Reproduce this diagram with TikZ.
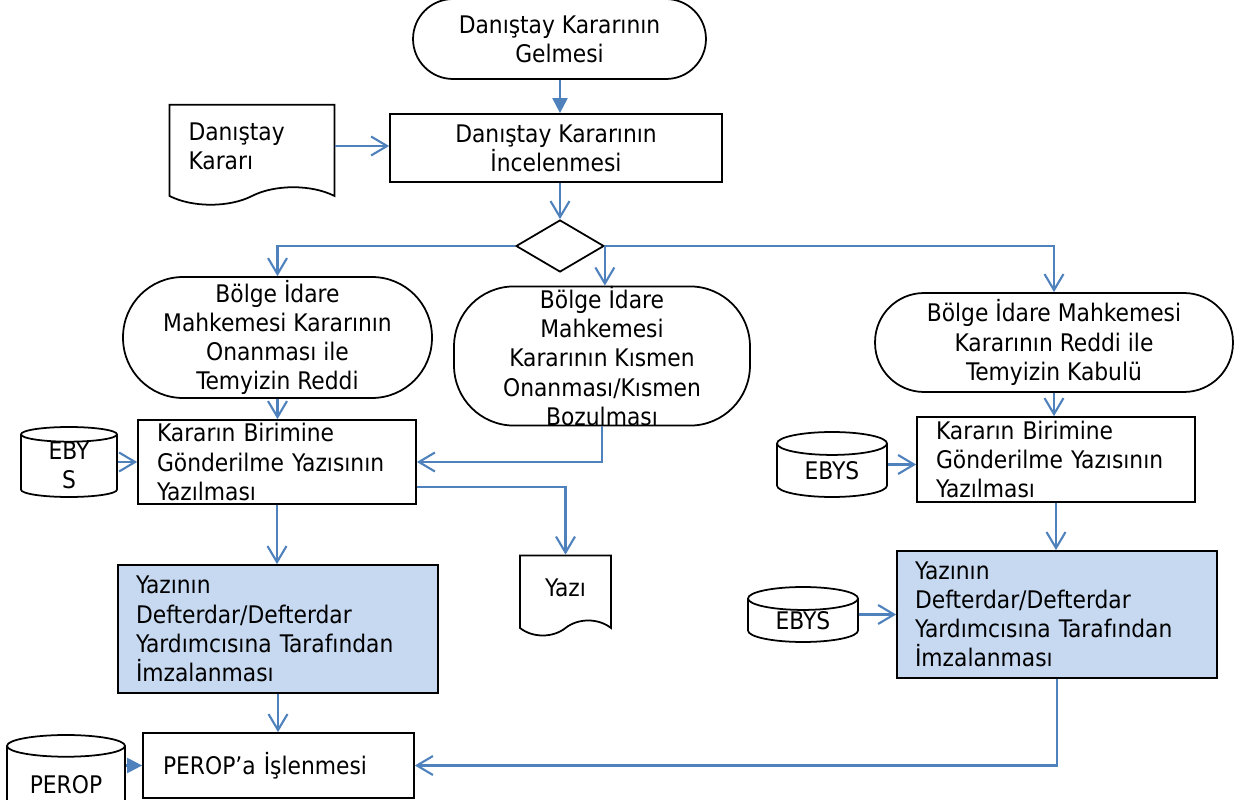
\documentclass[tikz,border=0pt]{standalone}
\usepackage{fontspec}
\setmainfont{DejaVu Sans Condensed}
\usetikzlibrary{arrows.meta,shapes.geometric,shapes.symbols}
\definecolor{flowline}{HTML}{4F81BD}
\definecolor{signfill}{HTML}{C6D9F1}

\begin{document}
\begin{tikzpicture}[
  x = 0.02cm, y = -0.02cm,
  every node/.style = {font=\fontsize{13.8}{16.6}\selectfont, inner sep=0pt},
  terminal/.style   = {rectangle, draw, line width=1pt, align=center},
  process/.style    = {rectangle, draw, line width=1pt, align=left, inner xsep=0.38cm},
  sign/.style       = {process, fill=signfill, minimum width=6.4cm, text width=5.68cm, inner xsep=0.36cm},
  paper/.style      = {tape, draw, line width=1pt, tape bend top=none, tape bend bottom=in and out, tape bend height=0.35cm},
  database/.style   = {cylinder, draw, line width=1pt, shape border rotate=90, aspect=0.42, anchor=shape center, align=center},
  decision/.style   = {diamond, draw, line width=1pt, minimum width=1.76cm, minimum height=1.04cm},
  flowarrow/.style  = {draw=flowline, line width=1.2pt, -{Straight Barb[length=0.32cm, width=0.38cm]}},
  flowtri/.style    = {draw=flowline, line width=1.2pt, -{Triangle[length=0.3cm, width=0.3cm]}},
  ]
  \useasboundingbox (0,0) rectangle (1234,800);
  % main column
  \node[terminal, rounded corners=0.8cm, minimum width=5.86cm, minimum height=1.6cm] (start) at (559.5,39) {Danıştay Kararının\\Gelmesi};
  \node[terminal, minimum width=6.64cm, minimum height=1.36cm, rounded corners=0pt] (review) at (556,148) {Danıştay Kararının\\İncelenmesi};
  \node[paper, minimum width=3.3cm, minimum height=2cm, text width=2.54cm, align=left, inner xsep=0.38cm] (decree) at (252,146) {Danıştay\\Kararı};
  \node[decision] (choice) at (560,246) {};
  % three outcomes
  \node[terminal, rounded corners=1.2cm, minimum width=6.18cm, minimum height=2.42cm] (approve) at (277.5,337.5) {Bölge İdare\\Mahkemesi Kararının\\Onanması ile\\Temyizin Reddi};
  \node[terminal, rounded corners=1.2cm, minimum width=5.92cm, minimum height=2.76cm] (partial) at (602,356) {Bölge İdare\\Mahkemesi\\Kararının Kısmen\\Onanması/Kısmen\\Bozulması};
  \node[terminal, rounded corners=0.98cm, minimum width=7.16cm, minimum height=1.98cm] (reject) at (1054,342.5) {Bölge İdare Mahkemesi\\Kararının Reddi ile\\Temyizin Kabulü};
  % left branch
  \node[process, minimum width=5.56cm, minimum height=1.68cm, text width=4.8cm] (letterL) at (277,462) {Kararın Birimine\\Gönderilme Yazısının\\Yazılması};
  \node[database, minimum width=1.92cm, minimum height=1.4cm, aspect=0.36, text height=0.9cm, text depth=-0.3cm] (ebysL) at (69,462) {EBY\\S};
  \node[paper, minimum width=1.82cm, minimum height=1.6cm, tape bend height=0.3cm] (yazi) at (565.5,588) {Yazı};
  \node[sign, minimum height=2.56cm] (signL) at (278,629) {Yazının\\Defterdar/Defterdar\\Yardımcısına Tarafından\\İmzalanması};
  \node[process, minimum width=5.42cm, minimum height=1.3cm, text width=4.62cm, inner xsep=0.4cm] (perop) at (278.5,765.5) {PEROP'a İşlenmesi};
  \node[database, minimum width=2.36cm, minimum height=1.74cm, aspect=0.3] (peropdb) at (66,778.5) {PEROP};
  % right branch
  \node[process, minimum width=5.56cm, minimum height=1.7cm, text width=4.8cm] (letterR) at (1056,459.5) {Kararın Birimine\\Gönderilme Yazısının\\Yazılması};
  \node[database, minimum width=2.2cm, minimum height=1.3cm] (ebysR) at (832,464.5) {EBYS};
  \node[sign, minimum height=2.54cm] (signR) at (1057,614.5) {Yazının\\Defterdar/Defterdar\\Yardımcısına Tarafından\\İmzalanması};
  \node[database, minimum width=2.2cm, minimum height=1.1cm] (ebysR2) at (803,614.5) {EBYS};
  % connectors
  \draw[flowtri]   (choice.north |- start.south) -- (choice.north |- review.north);
  \draw[flowarrow] (decree.east) -- (decree.east -| review.west);
  \draw[flowarrow] (choice.north |- review.south) -- (choice.north);
  \draw[flowarrow] (choice.west) -| (approve.north);
  \draw[flowarrow] (choice.east) -| (reject.north);
  \draw[flowarrow] (choice.east) -- (choice.east |- partial.north);
  \draw[flowarrow] (approve.south) -- (approve.south |- letterL.north);
  \draw[flowarrow] (ebysL.shape center -| ebysL.east) -- (ebysL.shape center -| letterL.west);
  \draw[flowarrow] (partial.south) |- (letterL.east);
  \draw[flowarrow] ([yshift=-0.5cm]letterL.east) -| (yazi.north);
  \draw[flowarrow] (letterL.south) -- (letterL.south |- signL.north);
  \draw[flowarrow] (signL.south) -- (signL.south |- perop.north);
  \draw[flowtri]   (perop.west -| peropdb.east) -- (perop.west);
  \draw[flowarrow] (reject.south) -- (reject.south |- letterR.north);
  \draw[flowarrow] (ebysR.shape center -| ebysR.east) -- (ebysR.shape center -| letterR.west);
  \draw[flowarrow] (letterR.south) -- (letterR.south |- signR.north);
  \draw[flowarrow] (ebysR2.shape center -| ebysR2.east) -- (ebysR2.shape center -| signR.west);
  \draw[flowarrow] (signR.south) |- (perop.east);
\end{tikzpicture}
\end{document}
